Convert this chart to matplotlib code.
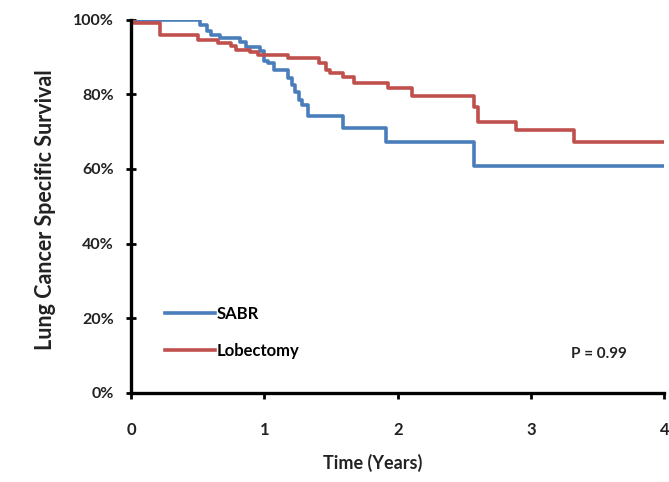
import matplotlib
matplotlib.use('Agg')
import matplotlib.pyplot as plt
from matplotlib.ticker import PercentFormatter

# Kaplan-Meier step data (time in years, survival fraction)
sabr_t = [0, 0.52, 0.57, 0.60, 0.67, 0.82, 0.86, 0.97, 1.00, 1.03, 1.07, 1.18,
          1.21, 1.23, 1.26, 1.28, 1.33, 1.59, 1.91, 2.57, 4.0]
sabr_s = [1.0, 0.985, 0.97, 0.96, 0.952, 0.94, 0.928, 0.915, 0.89, 0.885, 0.866, 0.845,
          0.826, 0.807, 0.786, 0.772, 0.742, 0.71, 0.672, 0.608, 0.608]

lobe_t = [0, 0.02, 0.22, 0.50, 0.65, 0.75, 0.79, 0.89, 0.95, 1.18, 1.41, 1.46,
          1.49, 1.59, 1.67, 1.93, 2.11, 2.57, 2.60, 2.89, 3.32, 4.0]
lobe_s = [1.0, 0.99, 0.96, 0.946, 0.938, 0.93, 0.92, 0.914, 0.906, 0.898, 0.885, 0.866,
          0.858, 0.847, 0.831, 0.817, 0.796, 0.767, 0.727, 0.705, 0.673, 0.673]

x_ticks = [0, 1, 2, 3, 4]
y_ticks = [0, 0.2, 0.4, 0.6, 0.8, 1.0]
p_text = 'P = 0.99'

plt.rcParams['font.family'] = ['Lato', 'DejaVu Sans']

fig = plt.figure(figsize=(6.69, 4.82), dpi=100)
ax = fig.add_axes([0.196, 0.185, 0.797, 0.774])

ax.plot(sabr_t, sabr_s, drawstyle='steps-post', color='#4a7ebb', lw=2.6, label='SABR')
ax.plot(lobe_t, lobe_s, drawstyle='steps-post', color='#c0504d', lw=2.6, label='Lobectomy')

ax.set_xlim(0, 4)
ax.set_ylim(0, 1)
ax.set_xticks(x_ticks)
ax.set_yticks(y_ticks)
ax.yaxis.set_major_formatter(PercentFormatter(1.0, decimals=0))

for side in ['top', 'right']:
    ax.spines[side].set_visible(False)
for side in ['left', 'bottom']:
    ax.spines[side].set_linewidth(2.4)
    ax.spines[side].set_color('black')

ax.tick_params(axis='y', direction='inout', length=7, width=2, labelsize=11.5, pad=9)
ax.tick_params(axis='x', direction='out', length=4, width=2, labelsize=12, pad=17)
for lbl in ax.get_xticklabels() + ax.get_yticklabels():
    lbl.set_fontweight('bold')
    lbl.set_color('#222222')

ax.set_xlabel('Time (Years)', fontsize=13, fontweight='bold', color='#222222')
ax.xaxis.set_label_coords(0.453, -0.165)
ax.set_ylabel('Lung Cancer Specific Survival', fontsize=15.5, fontweight='bold', color='#222222')
ax.yaxis.set_label_coords(-0.14, 0.49)

ax.legend(loc='lower left', bbox_to_anchor=(0.035, 0.05), frameon=False,
          handlelength=3.0, handletextpad=0.1, labelspacing=1.3,
          prop={'size': 12, 'weight': 'bold'})

ax.text(0.93, 0.105, p_text, transform=ax.transAxes, ha='right', va='center',
        fontsize=11, fontweight='bold', color='#222222')

fig.savefig('out.png', dpi=100)
